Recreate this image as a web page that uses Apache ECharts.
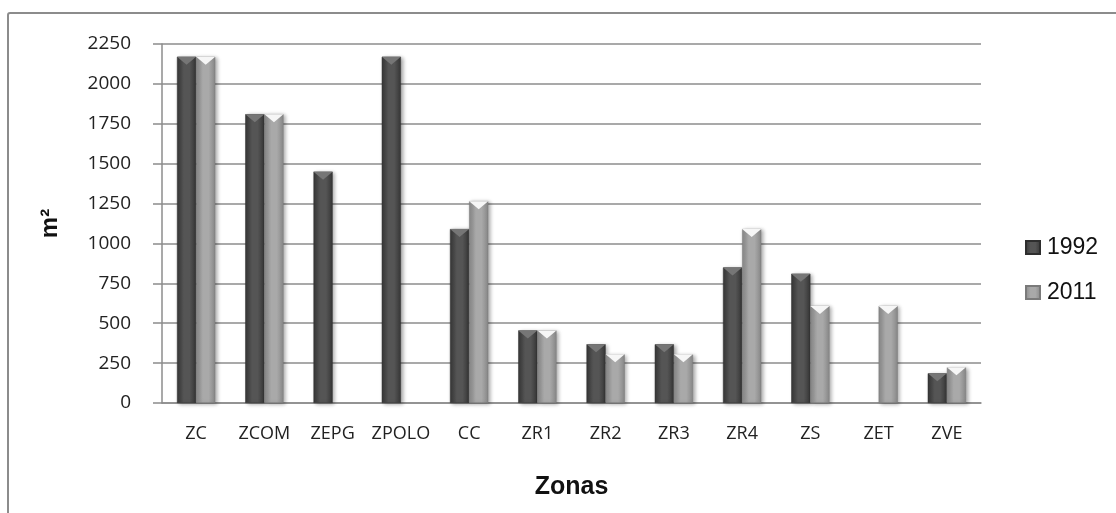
<!DOCTYPE html>
<html>
<head>
<meta charset="utf-8">
<script src="https://cdn.jsdelivr.net/npm/echarts@6/dist/echarts.min.js"></script>
<style>
  html, body { margin: 0; padding: 0; background: #fff; overflow: hidden; }
  #frame { position: absolute; left: 7px; top: 12px; width: 1130px; height: 530px;
           border: 2px solid #8c8c8c; border-radius: 3px; box-sizing: border-box; }
  #chart { position: absolute; left: 0; top: 0; width: 1116px; height: 513px; }
</style>
</head>
<body>
<div id="frame"></div>
<div id="chart"></div>
<script>
// Zonas y superficie (m²) por año
const zonas = ['ZC', 'ZCOM', 'ZEPG', 'ZPOLO', 'CC', 'ZR1', 'ZR2', 'ZR3', 'ZR4', 'ZS', 'ZET', 'ZVE'];
const valores1992 = [2170, 1810, 1450, 2170, 1090, 455, 368, 368, 850, 810, null, 186];
const valores2011 = [2170, 1810, null, null, 1265, 455, 305, 305, 1090, 608, 608, 224];
const ticksY = [0, 250, 500, 750, 1000, 1250, 1500, 1750, 2000, 2250];

const chart = echarts.init(document.getElementById('chart'));

function barFill(edge, mid) {
  return new echarts.graphic.LinearGradient(0, 0, 1, 0, [
    { offset: 0, color: edge },
    { offset: 0.35, color: mid },
    { offset: 0.65, color: mid },
    { offset: 1, color: edge }
  ]);
}

const chevron = 'path://M0,0 L10,0 L5,4 Z';
const tickFont = 'Open Sans, sans-serif';
const titleFont = 'Liberation Sans, Arial, sans-serif';
const gridGrey = '#8c8c8c';

chart.setOption({
  animation: false,
  grid: { left: 162, right: 135, top: 44, bottom: 110 },
  legend: {
    orient: 'vertical',
    left: 1020, top: 231,
    icon: 'rect',
    itemWidth: 14, itemHeight: 13, itemGap: 22,
    textStyle: { fontFamily: titleFont, fontSize: 23, color: '#111', padding: [0, 0, 0, 2] },
    data: ['1992', '2011']
  },
  xAxis: {
    type: 'category',
    data: zonas,
    name: 'Zonas',
    nameLocation: 'middle',
    nameGap: 72,
    nameTextStyle: { fontFamily: titleFont, fontWeight: 'bold', fontSize: 25, color: '#111' },
    axisLine: { lineStyle: { color: gridGrey, width: 1.5 } },
    axisTick: { show: false },
    axisLabel: { interval: 0, hideOverlap: false, fontFamily: tickFont, fontSize: 18, color: '#222', margin: 22 }
  },
  yAxis: {
    type: 'value',
    min: ticksY[0], max: ticksY[ticksY.length - 1], interval: 250,
    name: 'm²',
    nameLocation: 'middle',
    nameGap: 100,
    nameRotate: 90,
    nameTextStyle: { fontFamily: titleFont, fontWeight: 'bold', fontSize: 24, color: '#111' },
    axisLine: { show: true, lineStyle: { color: gridGrey, width: 1.5 } },
    axisTick: { show: true, inside: false, length: 9, lineStyle: { color: gridGrey, width: 1.5 } },
    axisLabel: { fontFamily: tickFont, fontSize: 19, color: '#222', margin: 31,
                 formatter: v => String(v) },
    splitLine: { lineStyle: { color: gridGrey, width: 1.5 } }
  },
  series: [
    {
      name: '1992', type: 'bar', data: valores1992,
      barCategoryGap: '44%', barGap: '0%',
      itemStyle: {
        color: barFill('#363636', '#555555'),
        borderColor: '#2e2e2e', borderWidth: 0.5,
        shadowColor: 'rgba(0,0,0,0.35)', shadowBlur: 4, shadowOffsetX: 2, shadowOffsetY: 1
      }
    },
    {
      name: '2011', type: 'bar', data: valores2011,
      barCategoryGap: '44%', barGap: '0%',
      itemStyle: {
        color: barFill('#888888', '#a9a9a9'),
        borderColor: '#7a7a7a', borderWidth: 0.5,
        shadowColor: 'rgba(0,0,0,0.35)', shadowBlur: 4, shadowOffsetX: 2, shadowOffsetY: 1
      }
    },
    {
      name: '1992', type: 'pictorialBar', data: valores1992,
      barCategoryGap: '44%', barGap: '0%',
      symbol: chevron, symbolSize: ['100%', 8], symbolPosition: 'end', symbolOffset: [0, 0],
      itemStyle: { color: '#767676' }, z: 3, silent: true
    },
    {
      name: '2011', type: 'pictorialBar', data: valores2011,
      barCategoryGap: '44%', barGap: '0%',
      symbol: chevron, symbolSize: ['100%', 8], symbolPosition: 'end', symbolOffset: [0, 0],
      itemStyle: { color: '#f6f6f6' }, z: 3, silent: true
    }
  ]
});
</script>
</body>
</html>
